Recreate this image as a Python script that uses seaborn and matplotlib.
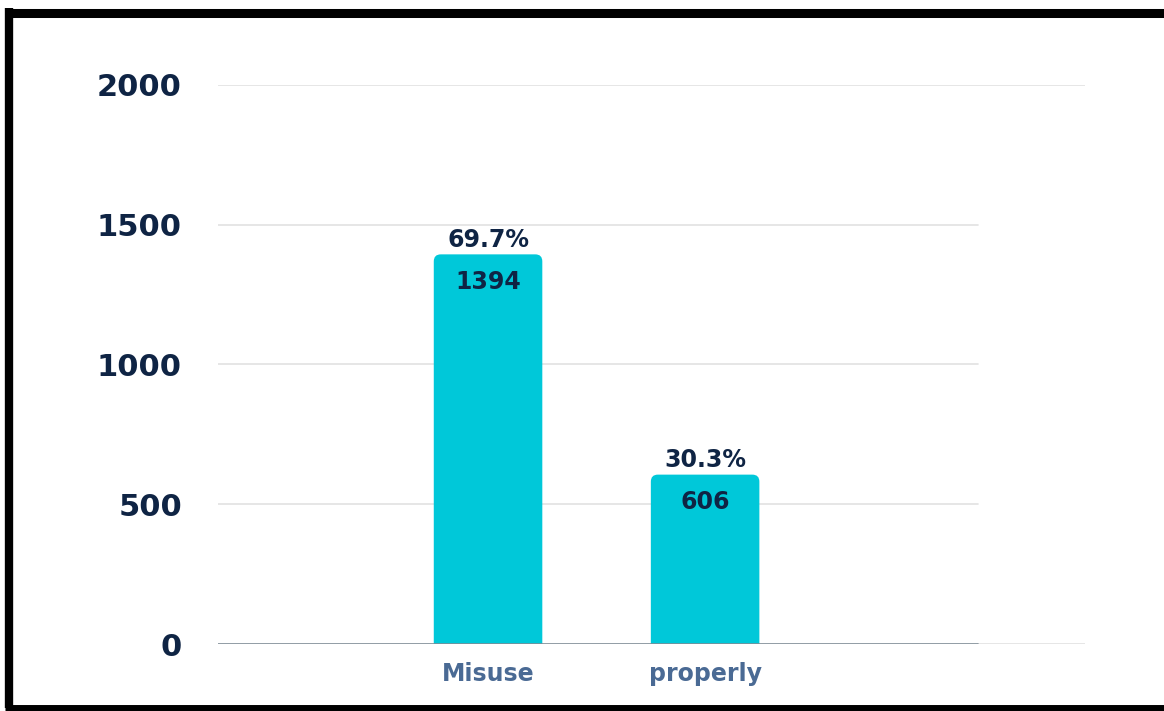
import matplotlib
matplotlib.use("Agg")
import matplotlib.pyplot as plt
import seaborn as sns
import pandas as pd
from matplotlib.lines import Line2D
from matplotlib.patches import FancyBboxPatch

categories = ["Misuse", "properly"]
counts = [1394, 606]
percents = ["69.7%", "30.3%"]
yticks = [0, 500, 1000, 1500, 2000]

sns.set_theme(style="white")
plt.rcParams['font.family'] = ['DejaVu Sans']

navy = "#0f2444"
bar_color = "#00c8d9"
xlab_color = "#4a6a94"

fig = plt.figure(figsize=(11.64, 7.11), dpi=100)
fig.patch.set_facecolor("white")
ax = fig.add_axes([0.1873, 0.0942, 0.7448, 0.7863])

df = pd.DataFrame({"category": categories, "count": counts})
sns.barplot(data=df, x="category", y="count", order=categories, color=bar_color,
            saturation=1, width=0.5, ax=ax, zorder=3)

ax.set_ylim(0, 2000)
ax.set_xlim(-1.244, 2.75)

# round the bar tops
px_x = 217.0  # px per x unit
px_y = 559.0 / 2000.0  # px per y unit
r = 7.0 / px_x
for p in list(ax.patches):
    x0, y0, w, h = p.get_x(), p.get_y(), p.get_width(), p.get_height()
    fb = FancyBboxPatch((x0, y0 - 100), w, h + 100,
                        boxstyle=f"round,pad=0,rounding_size={r}",
                        mutation_aspect=px_x / px_y,
                        facecolor=bar_color, edgecolor="none", zorder=3)
    p.remove()
    ax.add_patch(fb)

ax.set_yticks(yticks)
ax.set_yticklabels([str(t) for t in yticks], fontsize=22, fontweight="bold", color=navy)
ax.tick_params(axis="y", length=0, pad=26)
ax.tick_params(axis="x", length=0, pad=13)
for lbl in ax.get_xticklabels():
    lbl.set_fontsize(17)
    lbl.set_fontweight("bold")
    lbl.set_color(xlab_color)
ax.set_xlabel("")
ax.set_ylabel("")
for s in ax.spines.values():
    s.set_visible(False)
ax.grid(False)

# gridlines
for t in yticks:
    if t == 2000:
        ax.axhline(t, xmin=0, xmax=1, color="#e2e2e2", lw=1.2, zorder=1)
    elif t == 0:
        ax.axhline(t, xmin=0, xmax=0.877, color="#7f8c96", lw=1.2, zorder=4)
        ax.axhline(t, xmin=0.877, xmax=1, color="#e2e2e2", lw=1.2, zorder=1)
    else:
        ax.axhline(t, xmin=0, xmax=0.877, color="#e2e2e2", lw=1.2, zorder=1)

# labels
for i, (c, p) in enumerate(zip(counts, percents)):
    ax.annotate(p, (i, c), xytext=(0, 2), textcoords="offset points", ha="center",
                va="bottom", fontsize=17, fontweight="bold", color=navy, zorder=5)
    ax.annotate(str(c), (i, c), xytext=(0, -11), textcoords="offset points", ha="center",
                va="top", fontsize=17, fontweight="bold", color=navy, zorder=5)

# black frame (top, left, bottom)
fig.add_artist(Line2D([0.004, 1.0], [1 - 12.5 / 711] * 2, color="black", lw=6.5,
                      transform=fig.transFigure, solid_capstyle="butt"))
fig.add_artist(Line2D([9 / 1164] * 2, [3.5 / 711, 1 - 8 / 711], color="black", lw=6,
                      transform=fig.transFigure, solid_capstyle="butt"))
fig.add_artist(Line2D([0.004, 1.0], [3.5 / 711] * 2, color="black", lw=5,
                      transform=fig.transFigure, solid_capstyle="butt"))

fig.savefig("out.png", dpi=100, facecolor="white")
